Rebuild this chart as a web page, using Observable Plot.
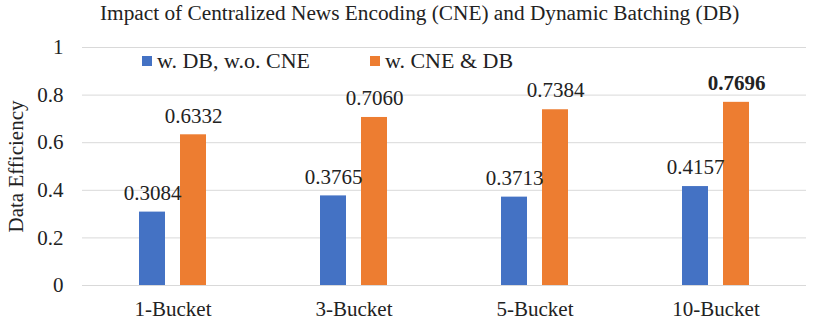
<!DOCTYPE html>
<html>
<head>
<meta charset="utf-8">
<script src="https://cdn.jsdelivr.net/npm/d3@7"></script>
<script src="https://cdn.jsdelivr.net/npm/@observablehq/plot@0.6"></script>
<style>
  body { margin: 0; background: #fff; font-family: "Liberation Serif", "Times New Roman", serif; }
  #wrap { position: relative; width: 814px; height: 323px; }
  #title { height: 34px; box-sizing: border-box; padding-top: 1px; padding-left: 100px; font-size: 21.3px; color: #222; white-space: nowrap; }
  #legend { position: absolute; top: 48px; left: 142px; font-size: 22px; color: #222; display: flex; white-space: nowrap; }
  #legend .item { display: flex; align-items: center; }
  #legend .sw { width: 10px; height: 10px; display: inline-block; margin-right: 5px; }
</style>
</head>
<body>
<div id="wrap">
  <div id="title">Impact of Centralized News Encoding (CNE) and Dynamic Batching (DB)</div>
  <div id="chart"></div>
  <div id="legend"></div>
</div>
<script>
const categories = ["1-Bucket", "3-Bucket", "5-Bucket", "10-Bucket"];
const seriesNames = ["w. DB, w.o. CNE", "w. CNE & DB"];
const dbOnly = [0.3084, 0.3765, 0.3713, 0.4157];
const cneDb = [0.6332, 0.7060, 0.7384, 0.7696];
const colors = ["#4472C4", "#ED7D31"];
const yTicks = [0, 0.2, 0.4, 0.6, 0.8, 1];
const boldLabel = {category: "10-Bucket", series: "w. CNE & DB"};

const data = [];
categories.forEach((c, i) => {
  data.push({category: c, series: seriesNames[0], value: dbOnly[i]});
  data.push({category: c, series: seriesNames[1], value: cneDb[i]});
});
const isBold = d => d.category === boldLabel.category && d.series === boldLabel.series;

const chart = Plot.plot({
  width: 814,
  height: 289,
  marginLeft: 81,
  marginRight: 7,
  marginTop: 13,
  marginBottom: 38,
  style: {fontFamily: "'Liberation Serif', 'Times New Roman', serif", fontSize: "21px", color: "#222", background: "#fff"},
  fx: {domain: categories, padding: 0, label: null},
  x: {domain: seriesNames, paddingInner: 0.366, paddingOuter: 1.38, align: 0.5, axis: null},
  y: {domain: [0, 1], label: null},
  color: {domain: seriesNames, range: colors},
  marks: [
    Plot.gridY(yTicks, {stroke: "#d9d9d9", strokeOpacity: 1, strokeWidth: 1}),
    Plot.barY(data, {fx: "category", x: "series", y: "value", fill: "series"}),
    Plot.text(data.filter(d => !isBold(d)), {fx: "category", x: "series", y: "value", text: d => d.value.toFixed(4), dy: -19, fontSize: 21, fill: "#222"}),
    Plot.text(data.filter(isBold), {fx: "category", x: "series", y: "value", text: d => d.value.toFixed(4), dy: -19, fontSize: 21, fontWeight: "bold", fill: "#222"}),
    Plot.axisY({ticks: yTicks, tickSize: 0, tickPadding: 19, fontSize: 21, tickFormat: d => String(+d.toFixed(1)), label: "Data Efficiency", labelAnchor: "center", labelArrow: "none", labelOffset: 74}),
    Plot.axisFx({anchor: "bottom", tickSize: 0, tickPadding: 16, fontSize: 21, label: null})
  ]
});
document.getElementById("chart").appendChild(chart);

const legend = document.getElementById("legend");
seriesNames.forEach((s, i) => {
  const item = document.createElement("span");
  item.className = "item";
  item.style.marginRight = i === 0 ? "60px" : "0";
  const sw = document.createElement("span");
  sw.className = "sw";
  sw.style.background = colors[i];
  item.appendChild(sw);
  item.appendChild(document.createTextNode(s));
  legend.appendChild(item);
});
</script>
</body>
</html>
